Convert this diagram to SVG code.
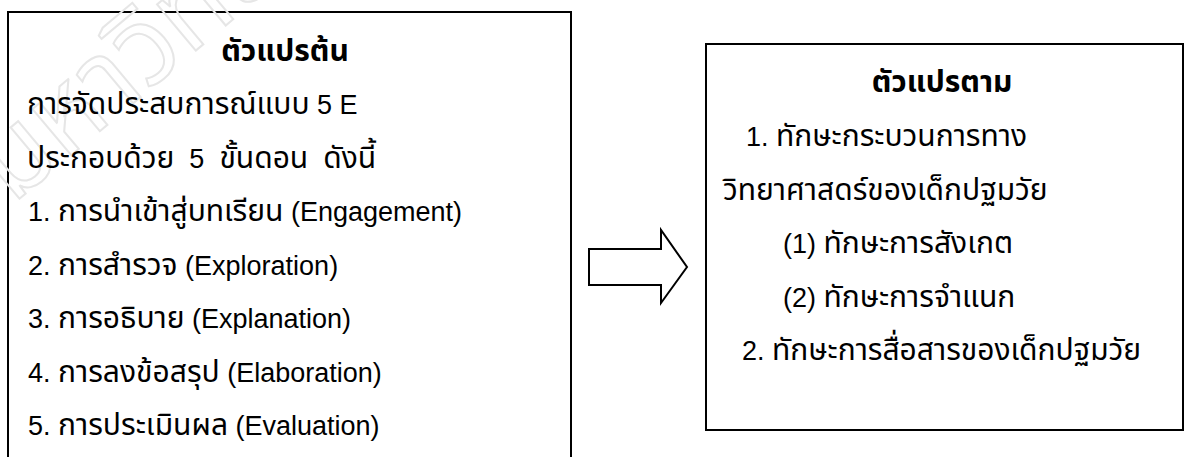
<svg xmlns="http://www.w3.org/2000/svg" width="1187" height="457" viewBox="0 0 1187 457">
<style>
.box{fill:#ffffff;stroke:#000000;stroke-width:2}
.t{font-family:"Liberation Sans","Noto Sans Thai","Noto Sans","DejaVu Sans",sans-serif;font-size:27px;fill:#000000;white-space:pre}
.th{font-size:30px}
.h{font-weight:bold;text-anchor:middle;font-size:30px}
.wm{font-family:"Liberation Sans","Noto Sans Thai","Noto Sans","DejaVu Sans",sans-serif;font-size:110px;fill:none;stroke:#e6e6e6;stroke-width:2}
</style>
<rect width="1187" height="457" fill="#ffffff"/>
<g id="independent">
<rect class="box" x="8" y="12" width="563" height="470"/>
<text class="wm" transform="translate(12,205) rotate(-40)">มหาวิทยาลัย</text>
<text class="t h" x="285" y="61">ตัวแปรต้น</text>
<text class="t" x="27" y="114"><tspan class="th">การจัดประสบการณ์แบบ</tspan> 5 E</text>
<text class="t" x="27" y="168"><tspan class="th">ประกอบด้วย</tspan>  5  <tspan class="th">ขั้นดอน</tspan>  <tspan class="th">ดังนี้</tspan></text>
<text class="t" x="28" y="221">1. <tspan class="th">การนำเข้าสู่บทเรียน</tspan> (Engagement)</text>
<text class="t" x="28" y="275">2. <tspan class="th">การสำรวจ</tspan> (Exploration)</text>
<text class="t" x="28" y="328">3. <tspan class="th">การอธิบาย</tspan> (Explanation)</text>
<text class="t" x="28" y="382">4. <tspan class="th">การลงข้อสรุป</tspan> (Elaboration)</text>
<text class="t" x="28" y="435">5. <tspan class="th">การประเมินผล</tspan> (Evaluation)</text>
</g>
<g id="connectors">
<polygon points="589,249 661,249 661,230 687,267 661,303 661,285 589,285" fill="#ffffff" stroke="#000000" stroke-width="2" stroke-linejoin="miter"/>
</g>
<g id="dependent">
<rect class="box" x="706" y="44" width="477" height="386"/>
<text class="t h" x="942" y="92">ตัวแปรตาม</text>
<text class="t" x="746" y="146">1. <tspan class="th">ทักษะกระบวนการทาง</tspan></text>
<text class="t th" x="723" y="200">วิทยาศาสดร์ของเด็กปฐมวัย</text>
<text class="t" x="783" y="253">(1) <tspan class="th">ทักษะการสังเกต</tspan></text>
<text class="t" x="783" y="307">(2) <tspan class="th">ทักษะการจำแนก</tspan></text>
<text class="t" x="742" y="360">2. <tspan class="th">ทักษะการสื่อสารของเด็กปฐมวัย</tspan></text>
</g>
</svg>
